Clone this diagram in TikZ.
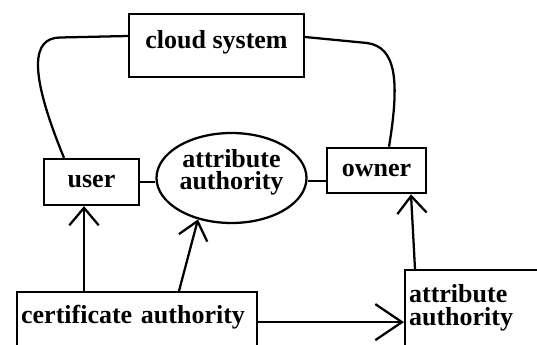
\documentclass[tikz,border=0pt]{standalone}
\usepackage{fontspec}
\setmainfont{Liberation Serif}
\usetikzlibrary{shapes.geometric, arrows.meta, calc}

\begin{document}
\begin{tikzpicture}[x=0.75pt, y=-0.75pt, line width=1.7pt,
    font=\fontsize{19.5}{17}\selectfont\bfseries,
    box/.style={draw, rectangle, inner sep=3pt},
    arr/.style={-{Straight Barb[length=13pt,width=22pt]}}]
    \useasboundingbox (0,0) rectangle (537,345);

    %% top: the cloud
    \node[box, minimum width=131pt, minimum height=47pt, text depth=9pt]
      (cloud) at (216.5,45.5) {cloud system};

    %% middle row
    \node[box, minimum width=71pt, minimum height=34.5pt] (user) at (91.5,182) {user};
    \node[draw, ellipse, inner sep=0pt, minimum width=112.5pt, minimum height=67.5pt,
          align=center, text depth=13pt] (attr) at (231.5,178) {attribute\\authority};
    \node[box, minimum width=74pt, minimum height=34pt] (owner) at (376.5,170.5) {owner};

    %% bottom row, runs off the page
    \node[box, anchor=north west, text width=174pt, align=left, minimum height=45pt,
          text depth=11.8pt] (ca) at (16,291) {certificate authority};
    \node[box, anchor=north west, text width=100pt, align=left, minimum height=63pt,
          text depth=27.5pt] (aa) at (404,269) {attribute\\authority};

    %% cloud links
    \draw ($(cloud.west)+(0,-9.5)$) -- (60,37.5)
      .. controls (32,38) and (28,70) .. ($(user.north)+(-27.5,0)$);
    \draw ($(cloud.east)+(0,-8.5)$) -- (367,43)
      .. controls (396,47) and (400,80) .. ($(owner.north)+(12.5,0)$);

    %% plain links
    \draw (user.east) -- (user.east -| attr.west);
    \draw ($(attr.east)+(0,3)$) -- ($(owner.west)+(0,10.5)$);

    %% issued by the authorities
    \draw[arr] ($(ca.north west)+(68,0)$) -- ($(user.south)+(-7.5,0)$);
    \draw[arr] ($(ca.north west)+(163,0)$) -- (attr.231);
    \draw[arr, -{Straight Barb[length=20pt,width=27pt]}] (ca.east) -- (ca.east -| aa.west);
    \draw[arr] ($(aa.north west)+(11,0)$) -- ($(owner.south)+(34.5,0)$);
\end{tikzpicture}
\end{document}
